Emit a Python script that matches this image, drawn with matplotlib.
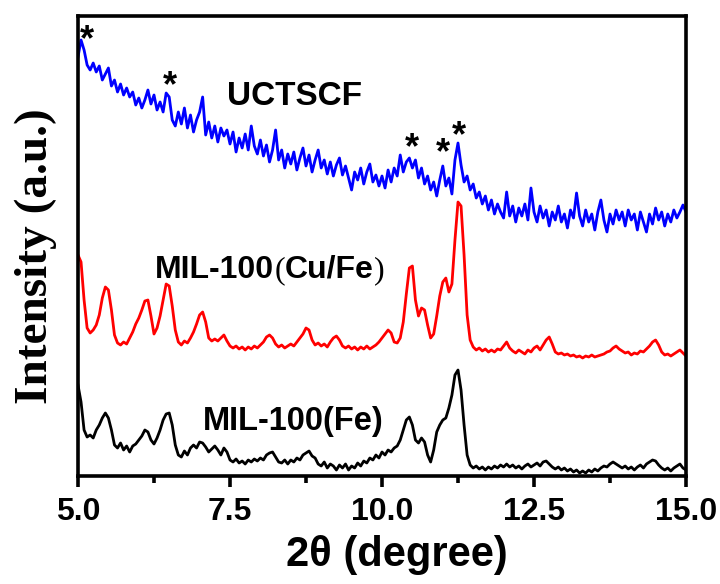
import numpy as np
import matplotlib
matplotlib.use("Agg")
import matplotlib.pyplot as plt
from matplotlib.ticker import MultipleLocator, FormatStrFormatter

# 2theta grid, 0.05 degree step
two_theta = np.round(np.arange(5.0, 15.0001, 0.05), 2)

# UCTSCF (blue)
uctscf = [
    419, 436, 426, 411, 406, 413, 404, 410, 396, 402, 408, 390, 396, 384, 392, 381, 388, 379, 384, 371,
    378, 368, 376, 386, 372, 381, 366, 374, 364, 383, 379, 356, 350, 364, 352, 368, 348, 361, 344, 356,
    364, 379, 341, 354, 338, 350, 334, 348, 340, 346, 332, 344, 324, 338, 328, 342, 326, 350, 330, 322,
    336, 320, 331, 314, 326, 346, 316, 326, 308, 322, 312, 324, 306, 318, 328, 310, 321, 304, 316, 326,
    308, 316, 302, 314, 300, 311, 318, 301, 310, 298, 286, 304, 296, 308, 292, 304, 312, 294, 301, 290,
    300, 288, 306, 294, 308, 300, 321, 304, 314, 318, 308, 316, 298, 308, 292, 300, 286, 294, 280, 296,
    310, 290, 298, 282, 316, 333, 311, 294, 300, 286, 292, 278, 284, 272, 280, 266, 276, 262, 272, 264,
    258, 284, 260, 270, 254, 268, 260, 272, 256, 288, 264, 254, 270, 258, 266, 250, 264, 256, 270, 254,
    262, 248, 266, 258, 283, 260, 250, 266, 254, 262, 246, 264, 276, 256, 244, 262, 252, 266, 256, 264,
    250, 266, 256, 262, 246, 264, 254, 244, 262, 252, 268, 256, 264, 250, 262, 254, 266, 258, 264, 271,
    264,
]

# MIL-100(Cu/Fe) (red)
mil_cufe = [
    221, 214, 176, 148, 143, 146, 151, 161, 178, 189, 186, 166, 141, 133, 131, 134, 132, 138, 144, 152,
    158, 166, 175, 176, 160, 142, 148, 160, 176, 192, 190, 170, 146, 134, 131, 135, 133, 138, 144, 152,
    161, 164, 154, 138, 135, 137, 135, 138, 141, 135, 130, 128, 130, 127, 129, 126, 129, 127, 130, 128,
    131, 134, 139, 141, 138, 132, 129, 131, 128, 130, 132, 130, 134, 138, 142, 148, 146, 136, 131, 133,
    130, 132, 129, 134, 138, 140, 136, 130, 128, 130, 127, 129, 126, 129, 127, 130, 127, 129, 131, 134,
    138, 142, 146, 143, 134, 133, 138, 154, 182, 208, 210, 176, 160, 168, 166, 151, 138, 142, 160, 180,
    194, 198, 184, 192, 236, 274, 270, 221, 161, 136, 129, 126, 128, 125, 127, 124, 126, 124, 127, 126,
    130, 134, 128, 125, 123, 126, 124, 122, 126, 124, 128, 130, 126, 131, 136, 139, 132, 124, 122, 123,
    121, 122, 120, 121, 119, 120, 118, 120, 119, 121, 119, 120, 121, 122, 124, 125, 128, 130, 127, 125,
    123, 124, 121, 123, 122, 125, 124, 127, 130, 134, 136, 131, 124, 121, 122, 120, 122, 124, 126, 123,
    120,
]

# MIL-100(Fe) (black)
mil_fe = [
    91, 74, 46, 39, 41, 38, 46, 51, 58, 63, 58, 46, 31, 28, 33, 26, 30, 24, 30, 32,
    36, 40, 46, 44, 36, 32, 38, 46, 56, 62, 63, 51, 31, 21, 19, 25, 21, 28, 31, 28,
    34, 33, 29, 24, 27, 30, 26, 21, 28, 24, 16, 14, 17, 13, 15, 12, 16, 14, 17, 15,
    18, 16, 21, 23, 24, 19, 14, 13, 16, 12, 16, 14, 18, 16, 21, 23, 25, 20, 18, 12,
    10, 14, 8, 12, 10, 6, 11, 8, 12, 6, 10, 8, 13, 10, 15, 13, 18, 16, 21, 18,
    24, 21, 26, 24, 28, 30, 36, 46, 56, 59, 51, 36, 33, 38, 34, 21, 14, 26, 44, 51,
    56, 58, 68, 81, 101, 106, 86, 51, 21, 11, 8, 10, 7, 9, 6, 9, 7, 10, 8, 11,
    9, 12, 9, 11, 8, 10, 7, 10, 12, 9, 11, 13, 10, 14, 15, 12, 9, 7, 9, 6,
    8, 5, 7, 4, 6, 3, 5, 3, 6, 4, 7, 5, 8, 10, 9, 12, 14, 12, 10, 8,
    10, 7, 9, 6, 9, 11, 8, 12, 14, 16, 15, 11, 8, 6, 8, 5, 8, 10, 12, 8,
    6,
]

xticks = [5.0, 7.5, 10.0, 12.5, 15.0]
# asterisk positions (2theta, intensity at star centre)
stars_x = [5.15, 6.51, 10.49, 11.0, 11.27]
stars_y = [444, 398, 336, 331, 348]

sans = "Liberation Sans"
serif = "Liberation Serif"

fig = plt.figure(figsize=(7.2, 5.84), dpi=100)
ax = fig.add_axes([78 / 720, 108 / 584, 608 / 720, 460 / 584])

ax.plot(two_theta, uctscf, color="#0000ff", lw=2.0)
ax.plot(two_theta, mil_cufe, color="#ff0000", lw=2.0)
ax.plot(two_theta, mil_fe, color="black", lw=2.0)

ax.set_xlim(5.0, 15.0)
ax.set_ylim(0, 460)
ax.set_xticks(xticks)
ax.xaxis.set_minor_locator(MultipleLocator(1.25))
ax.xaxis.set_major_formatter(FormatStrFormatter("%.1f"))
ax.set_yticks([])
for s in ax.spines.values():
    s.set_linewidth(2.6)
ax.tick_params(axis="x", which="major", direction="out", length=8, width=2.6, pad=7)
ax.tick_params(axis="x", which="minor", direction="out", length=5, width=2.6)
for lab in ax.get_xticklabels():
    lab.set_fontfamily(sans)
    lab.set_fontweight("bold")
    lab.set_fontsize(23)

ax.set_xlabel("2θ (degree)", fontfamily=sans, fontweight="bold", fontsize=30)
ax.xaxis.set_label_coords(0.525, -0.128)
fig.text(36 / 720, 1 - 256 / 584, "Intensity (a.u.)", rotation=90, ha="center", va="center",
         fontfamily=serif, fontweight="bold", fontsize=34)

for sx, sy in zip(stars_x, stars_y):
    ax.text(sx, sy - 18, "*", ha="center", va="baseline", fontfamily=sans,
            fontweight="bold", fontsize=26)

ax.text(7.45, 371, "UCTSCF", ha="left", va="baseline", fontfamily=sans,
        fontweight="bold", fontsize=24)
ax.text(7.06, 46, "MIL-100(Fe)", ha="left", va="baseline", fontfamily=sans,
        fontweight="bold", fontsize=23.5)

# MIL-100(Cu/Fe): brackets are set in a serif face in the original
pieces = [("MIL-100", sans, "bold"), ("(", serif, "normal"), ("Cu/Fe", sans, "bold"), (")", serif, "normal")]
fig.canvas.draw()
r = fig.canvas.get_renderer()
xpix = ax.transData.transform((6.27, 198))
cur = xpix[0]
for txt, fam, wt in pieces:
    t = fig.text(cur / 720, xpix[1] / 584, txt, ha="left",
                 va="baseline", fontfamily=fam, fontweight=wt, fontsize=23)
    cur = t.get_window_extent(r).x1

fig.savefig("out.png", dpi=100)
